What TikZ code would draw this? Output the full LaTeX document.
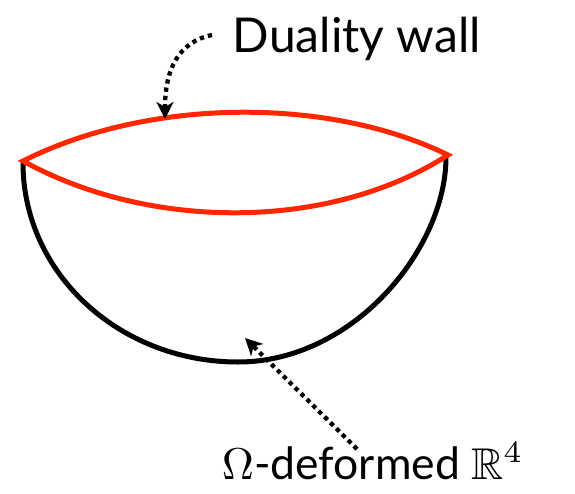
\documentclass[tikz,border=0pt]{standalone}
\usepackage{amssymb}
\usepackage{fontspec}
\setmainfont{Lato}
\usetikzlibrary{arrows.meta}
\definecolor{wallred}{RGB}{255,38,0}
\tikzset{
  wall/.style={draw=wallred,line width=5pt},
  bowl/.style={draw=black,line width=5pt},
  pointer/.style={draw=black,line width=4.3pt,dash pattern=on 4.3pt off 4pt,
     -{Stealth[length=17pt,width=17pt,inset=5pt]}},
  label/.style={inner sep=0pt,anchor=base west,transform shape}
}
\begin{document}
\begin{tikzpicture}[x=1pt,y=-1pt]
\useasboundingbox (0,0) rectangle (575,493);
\coordinate (L) at (23,161);
\coordinate (R) at (448,155);
\coordinate (B) at (238,362);
% bowl
\draw[bowl] (23,163) .. controls (23,273) and (119,362) .. (B)
            .. controls (353,362) and (446,249) .. (446,157);
% wall
\draw[wall,line join=miter] (L) .. controls (150,97) and (330,97) .. (R)
      .. controls (330,231) and (150,231) .. cycle;
% labels
\node[label,scale=4.8] (dw) at (232,52) {\fontsize{10}{12}\selectfont Duality wall};
\node[label,scale=4.45] (om) at (221,479) {\fontsize{10}{12}\selectfont $\Omega$-deformed $\mathbb{R}^4$};
% pointers
\coordinate (dwtail) at (212,35);
\coordinate (dwtip) at (165,119);
\coordinate (omtail) at (357,449);
\coordinate (omtip) at (245,338);
\draw[pointer] (dwtail) .. controls (178,42) and (165,70) .. (dwtip);
\draw[pointer] (omtail) -- (omtip);
\end{tikzpicture}
\end{document}
